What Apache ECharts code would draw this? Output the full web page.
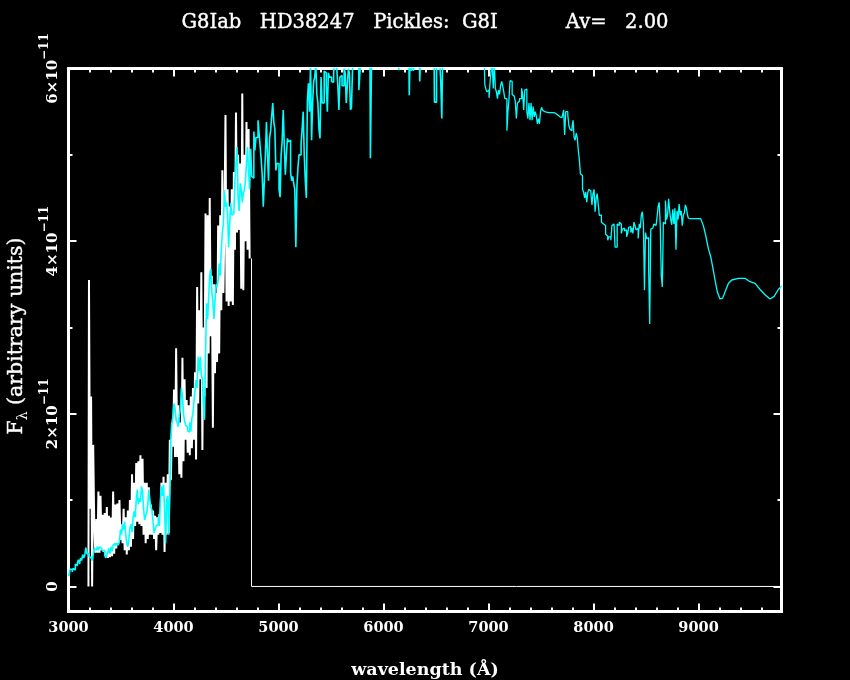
<!DOCTYPE html>
<html>
<head>
<meta charset="utf-8">
<style>html,body{margin:0;padding:0;background:#000}#c{width:850px;height:680px}</style>
<script src="https://cdn.jsdelivr.net/npm/echarts@6/dist/echarts.min.js"></script>
</head>
<body>
<div id="c"></div>
<script>
// flux values are in units of 1e-11; blocks are sampled every 10 A from their named start
const titleText = 'G8Iab   HD38247   Pickles:  G8I           Av=   2.00';
const xTitle = 'wavelength (Å)';
const xMajor = [3000,4000,5000,6000,7000,8000,9000];
const xMinor = [3200,3400,3600,3800,4200,4400,4600,4800,5200,5400,5600,5800,6200,6400,6600,6800,7200,7400,7600,7800,8200,8400,8600,8800,9200,9400,9600];
const yMajor = [0,2,4,6];
const yMinor = [1,3,5];
const yLabels = {0:'0',2:'2×10',4:'4×10',6:'6×10'};

const white3190 = [0,3.55,.9,2.2,0,1.64,.74,.39,.78,.39,
 1.1,.39,1.05,.42,.83,.4,.85,.36,.92,.33,
 .82,.34,.8,.35,1.1,.38,.95,.44,.96,.5,
 1.0,.54,.72,.5,.9,.42,.8,.37,.88,.42,
 1.0,.46,1.3,.55,1.2,.7,1.43,.75,1.45,.72,
 1.52,.7,1.48,.6,1.2,.5,1.2,.55,1.15,.6,
 .95,.6,.88,.55,.82,.42,.8,.6,.84,.62,
 1.2,.6,1.27,.4,1.2,.6,1.3,.62,1.7,1.23];
const white3990 = [1.9,1.62,2.28,1.5,2.76,1.5,2.1,1.3,1.9,1.26,
 2.65,1.45,2.4,1.7,2.16,1.55,2.1,1.52,2.2,1.6,
 2.3,1.7,2.48,1.47,3.47,2.12,3.2,2.4,3.64,1.58,
 3.0,2.2,4.32,2.3,4.3,2.7,4.5,2.9,3.6,1.84,
 3.5,2.47,3.4,2.6,4.18,2.7,4.3,3.2,4.82,3.4,
 4.2,5.46,3.3,4.6,3.25,4.4,3.3,4.6,3.26,4.8,
 3.9,5.49,4.1,5.0,4.13,4.9,3.45,5.71,3.43,5.0,
 4.0,5.38,3.9,5.3,3.8];
const whiteTailWave = [4743,4743,9790];
const whiteTail = [3.8,0,0];

const cyan3000 = [.15,.12,.2,.2,.17,.21,.19,.26,.24,.28,
 .31,.26,.33,.3,.37,.33,.36,.45,.38,.38,
 .35,.33,.31,.3,.37,.44,.42,.43,.46,.42,
 .46,.44,.43,.41,.42,.36,.33,.36,.4,.44,
 .38,.46,.41,.48,.5,.47,.5,.48,.5,.52];
const cyan3500 = [.66,.6,.72,.66,.75,.6,.5,.46,.55,.68,
 .72,.63,.8,.87,.8,1.0,1.12,.95,1.02,.98,
 1.16,1.1,.9,.77,.82,.85,.95,1.12,1.0,.92,
 .88,.75,.62,.66,.7,.72,.8,.7,1.0,1.16,
 1.05,1.18,.9,.5,1.0,1.05,.6,1.1,1.7,1.9];
const cyan4000 = [1.97,2.12,2.05,1.93,1.9,1.85,1.98,2.05,2.3,2.2,
 2.0,1.92,1.87,1.85,1.8,1.79,1.9,1.8,1.95,2.0,
 2.15,2.27,2.39,2.3,2.66,2.5,2.66,2.45,2.4,2.1,
 1.93,2.7,3.28,3.1,3.35,3.6,3.68,3.4,3.3,3.1,
 3.3,3.5,3.47,3.55,3.74,3.6,3.9,4.1,4.2,4.59];
const cyan4500 = [4.4,4.45,4.3,3.93,4.2,4.44,4.3,4.32,4.3,4.7,
 4.92,5.09,4.5,4.35,4.67,4.6,4.45,4.55,4.6,4.7,
 4.9,5.09,4.8,4.6,5.07,4.75,4.73,5.27,5.05,5.2,
 5.2,5.4,5.25,5.1,4.95,4.76,4.4,4.7,5.0,5.38,
 5.0,4.7,5.2,5.28,5.45,5.6,5.38,5.3,4.82,4.9];
const cyan5000 = [4.9,4.6,4.51,5.0,5.17,5.52,5.1,4.77,5.0,5.19,
 5.15,5.17,4.8,4.7,4.75,4.67,4.6,3.93,4.63,4.85,
 5.0,5.0,5.13,5.3,5.5,5.0,4.7,4.5,5.63,5.83,
 5.5,6.05,5.17,5.6,5.85,5.9,6.05,5.7,5.6,5.3,
 5.19,5.9,5.6,5.6,5.97,5.95,5.8,5.5,5.95,5.9];
const cyan5500 = [5.9,5.85,5.84,5.95,6.1,6.1,6.0,5.8,5.52,5.9,
 5.92,5.8,5.8,6.0,5.95,5.6,5.8,6.0,5.95,5.52,
 5.55,6.0,6.2,6.2,6.1,6.2,6.2,5.75,5.95,6.1];
const cyanTopWave = [5800,5870,5880,5890,5900,6140,6150,6160,6240,6250,6260,6270,6280,6290,6300,6340,6350,6360,6480,6490,6500,6510,6540,6550,6560,6570,6950];
const cyanTopFlux = [6.3,6.3,4.96,5.99,6.3,6.3,5.98,6.3,6.3,5.69,6.3,5.97,6.3,5.97,6.3,6.3,5.85,6.3,6.3,5.61,5.61,6.3,6.3,5.85,5.42,6.3,6.3];
const cyan6960 = [6.05,5.81,5.76,5.73,5.75,5.66,5.85,5.98,6.05,5.77,
 6.05,5.77,5.73,5.65,5.75,5.7,5.8,5.85,5.8,5.73,
 5.65,5.65,5.28,5.5,5.65,5.86,5.85,5.7,5.68,5.7,
 5.62,5.42,5.6,5.62,5.65,5.65,5.77,5.7,5.52,5.75,
 5.76,5.5,5.42,5.6,5.4,5.6,5.4,5.56,5.44,5.5,
 5.45,5.36,5.42,5.36,5.5,5.55,5.52,5.5,5.49];
const cyanFlatWave = [7600,7640,7660,7680,7700,7710,7720,7730,7740,7750,7760,7770,7780,7790];
const cyanFlatFlux = [5.49,5.48,5.46,5.44,5.43,5.45,5.52,5.23,5.5,5.5,5.46,5.34,5.3,5.28];
const cyan7800 = [5.32,5.4,5.2,5.17,5.25,5.2,5.05,4.94,4.78,4.76,
 4.6,4.57,4.5,4.57,4.45,4.56,4.6,4.58,4.55,4.42,
 4.55,4.6,4.34,4.5,4.55,4.42,4.3,4.3,4.22,4.2,
 4.19,4.18,4.08,4.06,4.01,4.05,4.05,4.01,4.18,4.2,
 4.18,3.93,3.93,4.2,4.18,4.22,4.2,4.09,4.14,4.15];
const cyan8300 = [4.12,4.13,4.05,4.09,4.16,4.17,4.1,4.15,4.09,4.22,
 4.18,4.13,4.15,4.03,4.2,4.15,4.3,4.34,4.2,3.43,
 4.1,4.03,4.04,3.66,3.04,4.14,4.15,4.15,4.2,4.18,
 4.2,4.28,4.4,4.45,4.2,3.6,3.47,4.22,4.2,4.47,
 4.25,4.3,4.49,4.35,4.25,4.19,4.37,4.2,4.38,3.9];
const cyan8800 = [4.35,4.25,4.43,4.3,4.35,4.18,4.3,4.33,4.42,4.38,4.3,4.26];
const cyanRedWave = [8910,9020,9046,9071,9094,9116,9135,9157,9179,9205,9230,9252,9284,9316,9379,9443,9490,9538,9586,9633,9681,9720,9760,9792];
const cyanRedFlux = [4.26,4.26,4.18,4.05,3.91,3.82,3.7,3.55,3.41,3.33,3.34,3.41,3.51,3.55,3.57,3.57,3.53,3.51,3.44,3.38,3.33,3.36,3.44,3.48];

function grid10(start, arr){ return arr.map((v,i)=>[start+i*10,v]); }
function zip(w, f){ return w.map((x,i)=>[x,f[i]]); }
const whiteData = [].concat(grid10(3190,white3190), grid10(3990,white3990));
const whiteTailData = zip(whiteTailWave,whiteTail);
const cyanBlueData = [].concat(grid10(3000,cyan3000), grid10(3500,cyan3500), grid10(4000,cyan4000),
  grid10(4500,cyan4500), grid10(5000,cyan5000), grid10(5500,cyan5500), zip(cyanTopWave,cyanTopFlux));
const cyanMidData = [].concat(grid10(6960,cyan6960), zip(cyanFlatWave,cyanFlatFlux), grid10(7800,cyan7800),
  grid10(8300,cyan8300), grid10(8800,cyan8800));
const cyanRedData = zip(cyanRedWave,cyanRedFlux);

const FONT = '"DejaVu Serif"';
const W = '#ffffff';
const line = {show:true,lineStyle:{color:W,width:3},onZero:false};
function xa(pos,ticks,len,labels){
  return {type:'value',position:pos,min:3000,max:9790,axisLine:line,splitLine:{show:false},
    axisTick:{show:true,inside:true,length:len,lineStyle:{color:W,width:2},customValues:ticks},
    axisLabel:labels?{show:true,customValues:ticks,color:W,fontFamily:FONT,fontWeight:'bold',fontSize:14.5,margin:9,
      hideOverlap:false,showMinLabel:true,showMaxLabel:true,formatter:v=>String(v)}:{show:false}};
}
function ya(pos,ticks,len,labels){
  return {type:'value',position:pos,min:-0.29,max:6,axisLine:line,splitLine:{show:false},
    axisTick:{show:true,inside:true,length:len,lineStyle:{color:W,width:2},customValues:ticks},
    axisLabel:labels?{show:true,customValues:ticks,rotate:90,margin:8,hideOverlap:false,showMinLabel:true,showMaxLabel:true,
      color:W,fontFamily:FONT,fontWeight:'bold',fontSize:15,
      formatter:v=> v===0 ? '{b|0}' : '{b|'+yLabels[v]+'}{s|−11}',
      rich:{b:{color:W,fontFamily:FONT,fontWeight:'bold',fontSize:15,lineHeight:22,verticalAlign:'bottom'},
            s:{color:W,fontFamily:FONT,fontWeight:'bold',fontSize:12,lineHeight:22,verticalAlign:'top'}}}:{show:false}};
}
const xBottom = xa('bottom',xMajor,8,true);
xBottom.name = xTitle; xBottom.nameLocation='middle'; xBottom.nameGap=50;
xBottom.nameTextStyle={color:W,fontFamily:FONT,fontWeight:'bold',fontSize:17.5};
const yLeft = ya('left',yMajor,8,true);
yLeft.name='{a|F}{u|λ}{a| (arbitrary units)}'; yLeft.nameLocation='middle'; yLeft.nameGap=34;
yLeft.nameTextStyle={color:W,fontFamily:FONT,fontWeight:'normal',fontSize:20.5,padding:[0,0,0,8],rich:{
  a:{color:W,fontFamily:FONT,fontWeight:'normal',fontSize:20.5,lineHeight:24,verticalAlign:'top',textBorderColor:W,textBorderWidth:0.4},
  u:{color:W,fontFamily:FONT,fontWeight:'normal',fontSize:14,lineHeight:24,verticalAlign:'bottom'}}};

const chart = echarts.init(document.getElementById('c'),null,{renderer:'canvas'});
chart.setOption({
  backgroundColor:'#000',animation:false,
  title:{text:titleText,left:'center',top:13,padding:0,textStyle:{color:W,fontFamily:FONT,fontWeight:'normal',fontSize:19.5,textBorderColor:W,textBorderWidth:0.4}},
  grid:{left:68.5,right:68.5,top:68.5,bottom:68.5,containLabel:false,outerBoundsMode:'none'},
  xAxis:[xBottom,xa('bottom',xMinor,4,false),xa('top',xMajor,8,false),xa('top',xMinor,4,false)],
  yAxis:[yLeft,ya('left',yMinor,4,false),ya('right',yMajor,8,false),ya('right',yMinor,4,false)],
  series:[
    {name:'observed',type:'line',data:whiteData,step:'middle',showSymbol:false,sampling:false,lineStyle:{color:W,width:2},z:2},
    {name:'observed tail',type:'line',data:whiteTailData,showSymbol:false,lineStyle:{color:W,width:1},z:2},
    {name:'template',type:'line',data:cyanBlueData,step:'middle',showSymbol:false,sampling:false,lineStyle:{color:'#00ffff',width:1.6},z:3},
    {name:'template mid',type:'line',data:cyanMidData,step:'middle',showSymbol:false,sampling:false,lineStyle:{color:'#00ffff',width:1.3},z:3},
    {name:'template red',type:'line',data:cyanRedData,showSymbol:false,lineStyle:{color:'#00ffff',width:1.3},z:3}
  ]
});
</script>
</body>
</html>
